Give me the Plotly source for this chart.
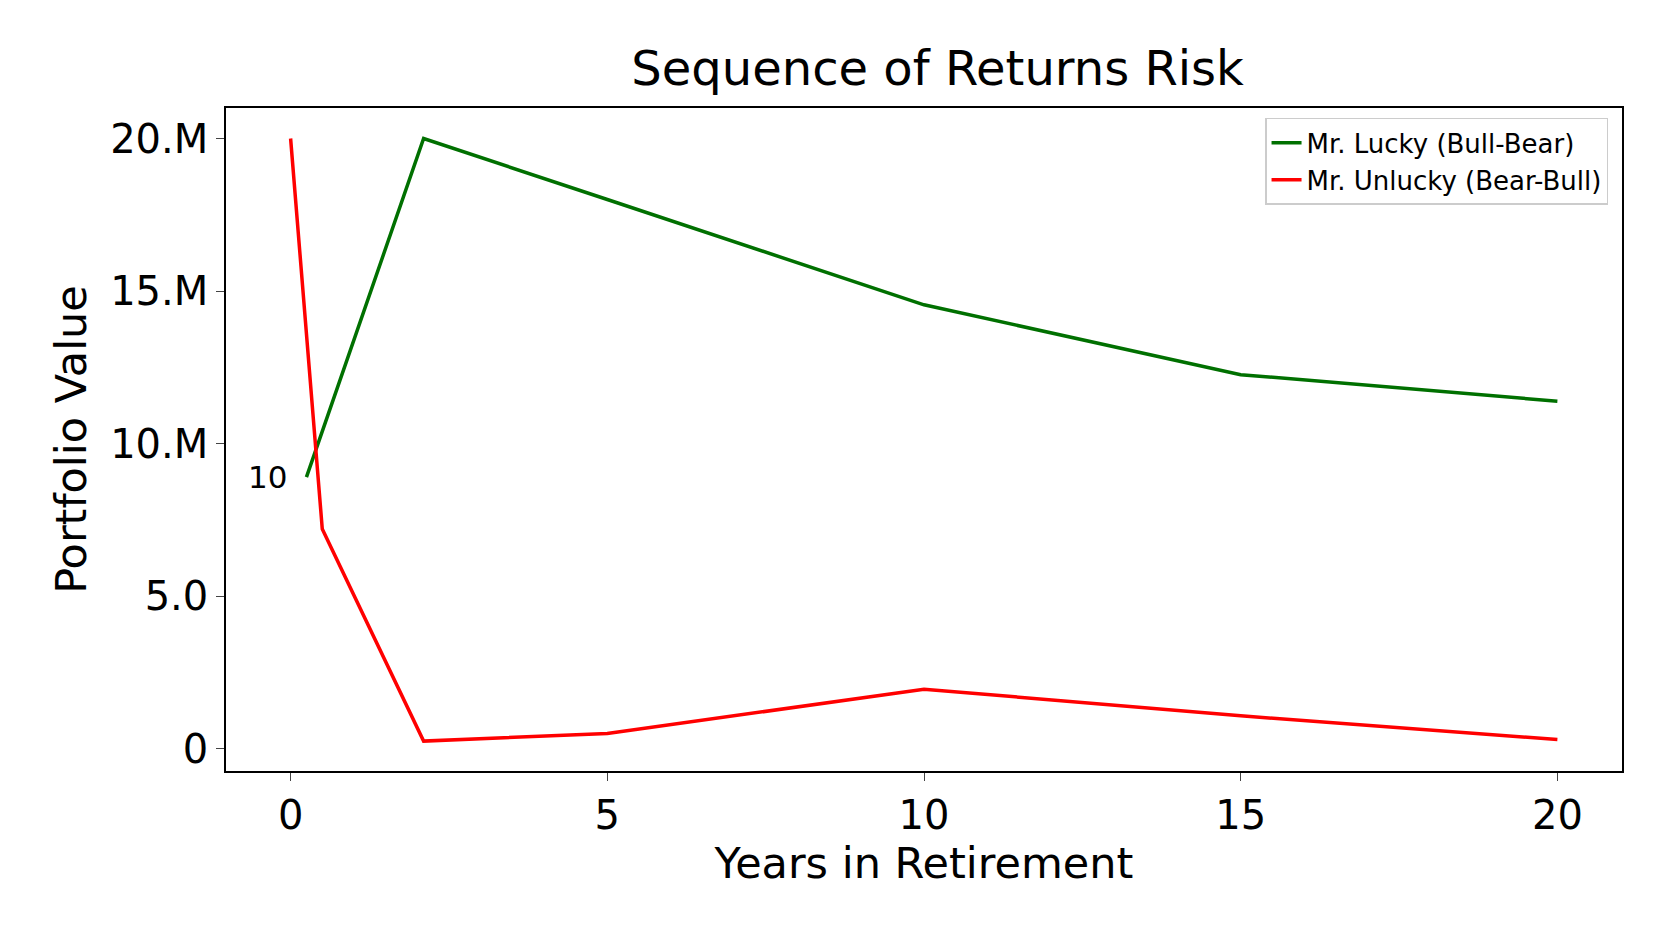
import plotly.graph_objects as go

lucky_x = [0.25, 2.1, 5, 10, 15, 20]
lucky_y = [8.9e6, 20.0e6, 18.0e6, 14.55e6, 12.26e6, 11.39e6]
unlucky_x = [0, 0.5, 2.1, 5, 10, 15, 20]
unlucky_y = [20.0e6, 7.2e6, 0.25e6, 0.5e6, 1.95e6, 1.08e6, 0.3e6]
ytick_vals = [0, 5e6, 10e6, 15e6, 20e6]
ytick_text = ["0", "5.0", "10.M", "15.M", "20.M"]
xtick_vals = [0, 5, 10, 15, 20]

F = "DejaVu Sans"
fig = go.Figure()
fig.add_trace(go.Scatter(x=lucky_x, y=lucky_y, mode="lines", name="Mr. Lucky (Bull-Bear)",
                         line=dict(color="#007000", width=3.5)))
fig.add_trace(go.Scatter(x=unlucky_x, y=unlucky_y, mode="lines", name="Mr. Unlucky (Bear-Bull)",
                         line=dict(color="#ff0000", width=3.5)))
fig.add_annotation(x=0, y=8.9e6, text="10", showarrow=False, xanchor="right", xshift=-2,
                   font=dict(family=F, size=31, color="black"))
fig.update_layout(
    width=1666, height=937, plot_bgcolor="white", paper_bgcolor="white",
    margin=dict(l=218, r=52, t=100, b=174),
    title=dict(text="Sequence of Returns Risk", x=0.558, xanchor="center", y=0.954,
               font=dict(family=F, size=48, color="black")),
    font=dict(family=F, color="black"),
    xaxis=dict(range=[-1.02, 21.02], tickvals=xtick_vals, showgrid=False, zeroline=False,
               showline=True, mirror=True, linecolor="black", linewidth=1.5,
               ticks="outside", ticklen=8, tickfont=dict(size=40),
               title=dict(text="Years in Retirement", font=dict(size=43), standoff=10)),
    yaxis=dict(range=[-0.73e6, 21.0e6], tickvals=ytick_vals, ticktext=ytick_text, showgrid=False,
               zeroline=False, showline=True, mirror=True, linecolor="black", linewidth=1.5,
               ticks="outside", ticklen=8, tickfont=dict(size=40),
               title=dict(text="Portfolio Value", font=dict(size=43), standoff=10)),
    legend=dict(x=0.99, y=0.985, xanchor="right", yanchor="top", bgcolor="white",
                bordercolor="#cccccc", borderwidth=1.5, font=dict(size=26)),
)
fig.write_html("out.html")
